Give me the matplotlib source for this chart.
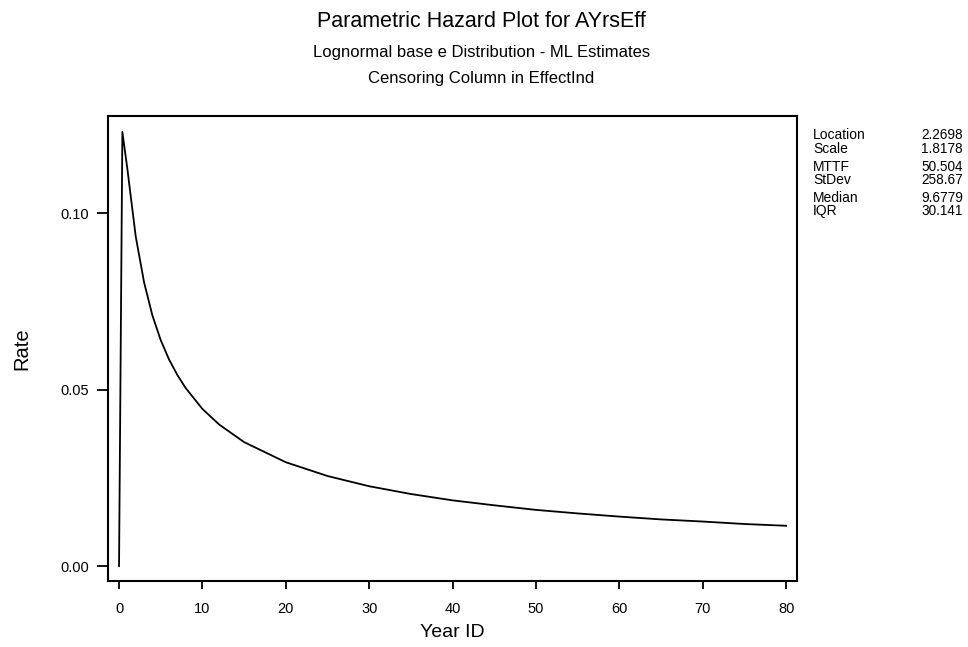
import matplotlib.pyplot as plt

plt.rcParams['font.family'] = ['Liberation Sans', 'DejaVu Sans']

# hazard curve
years = [0, 0.4, 1, 2, 3, 4, 5, 6, 7, 8, 10, 12, 15, 20, 25, 30, 35,
         40, 45, 50, 55, 60, 65, 70, 75, 80]
rate = [0.0, 0.123, 0.1125, 0.0934, 0.0804, 0.0710, 0.0640, 0.0585,
        0.0541, 0.0504, 0.0445, 0.0401, 0.0351, 0.0294, 0.0255, 0.0226,
        0.0204, 0.0186, 0.0172, 0.0159, 0.0149, 0.0140, 0.0132, 0.0126,
        0.0119, 0.0114]

stat_names = ['Location', 'Scale', 'MTTF', 'StDev', 'Median', 'IQR']
stat_values = ['2.2698', '1.8178', '50.504', '258.67', '9.6779', '30.141']

fig = plt.figure(figsize=(9.68, 6.47), dpi=100)
ax = fig.add_axes([0.1116, 0.102, 0.7117, 0.7187])

ax.plot(years, rate, color='black', linewidth=1.3)

ax.set_xlim(-1.32, 81.3)
ax.set_ylim(-0.00425, 0.1275)
ax.set_xticks(range(0, 81, 10))
ax.set_yticks([0.0, 0.05, 0.10])
ax.set_yticklabels(['0.00', '0.05', '0.10'])
ax.tick_params(axis='y', direction='out', length=8, width=1.3, labelsize=10.5, pad=5.5)
ax.tick_params(axis='x', direction='out', length=6, width=1.3, labelsize=10.5, pad=9)
for s in ax.spines.values():
    s.set_linewidth(1.5)

ax.set_xlabel('Year ID', fontsize=14, labelpad=6)
ax.set_ylabel('Rate', fontsize=14.5, labelpad=21)

fig.text(0.497, 0.967, 'Parametric Hazard Plot for AYrsEff', ha='center',
         va='center', fontsize=15.5)
fig.text(0.497, 0.919, 'Lognormal base e Distribution - ML Estimates',
         ha='center', va='center', fontsize=12)
fig.text(0.497, 0.879, 'Censoring Column in EffectInd', ha='center',
         va='center', fontsize=12)

row_y = [135, 149, 167, 180, 198, 211]
for name, val, py in zip(stat_names, stat_values, row_y):
    fig.text(813 / 968, 1 - py / 647, name, ha='left', va='center', fontsize=10)
    fig.text(963 / 968, 1 - py / 647, val, ha='right', va='center', fontsize=9.8)

fig.savefig('out.png', dpi=100)
